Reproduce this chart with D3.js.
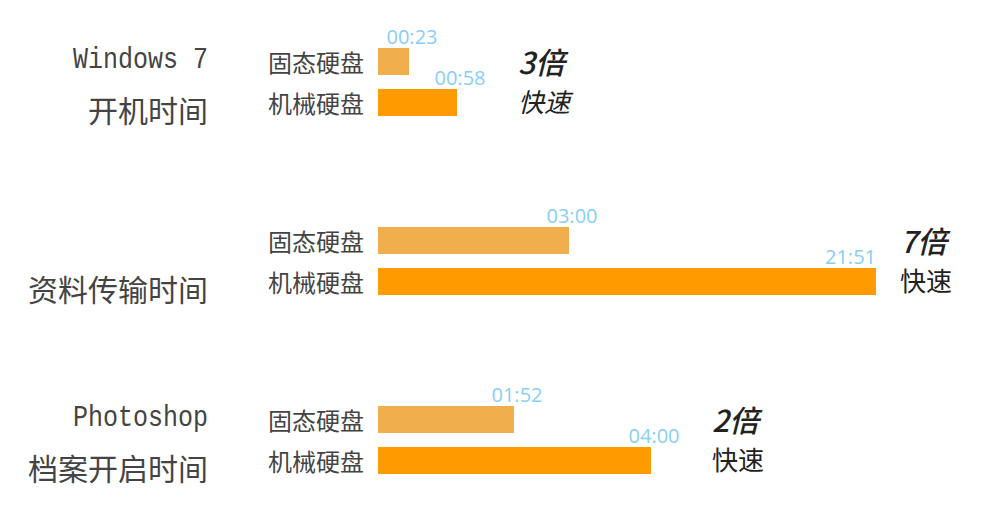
<!DOCTYPE html>
<html>
<head>
<meta charset="utf-8">
<script src="https://cdn.jsdelivr.net/npm/d3@7/dist/d3.min.js"></script>
<style>
  html, body { margin: 0; padding: 0; background: #fff; }
  svg { display: block; }
</style>
</head>
<body>
<svg id="chart" width="996" height="509"></svg>
<script>
// ---- data ----
const groups = ["win7", "transfer", "photoshop"];
const titleLine1 = ["Windows 7", "", "Photoshop"];
const titleLine2 = ["开机时间", "资料传输时间", "档案开启时间"];
const seriesNames = ["固态硬盘", "机械硬盘"];
const ssdTimes = ["00:23", "03:00", "01:52"];
const hddTimes = ["00:58", "21:51", "04:00"];
// relative bar lengths as drawn in the picture (bars are not proportional to the times)
const ssdBarLength = [31, 191, 136];
const hddBarLength = [79, 498, 273];
const speedup = ["3倍", "7倍", "2倍"];
const speedWord = "快速";

// ---- layout ----
const W = 996, H = 509;
const svg = d3.select("#chart");
const cjk = "'Noto Sans CJK SC', 'Noto Sans', sans-serif";

const yGroup = d3.scalePoint().domain(groups).range([82, 440]);
const ySeries = d3.scaleBand().domain([0, 1]).range([-34, 34]).paddingInner(0.3415).paddingOuter(0);
const x = d3.scaleLinear().domain([0, d3.max(hddBarLength)]).range([378, 876]);
const colors = ["#F0AE4C", "#FF9B00"];

const rows = [];
groups.forEach((g, i) => {
  rows.push({ g, i, s: 0, len: ssdBarLength[i], label: ssdTimes[i] });
  rows.push({ g, i, s: 1, len: hddBarLength[i], label: hddTimes[i] });
});

// bars
svg.append("g").selectAll("rect").data(rows).join("rect")
  .attr("x", x(0))
  .attr("y", d => yGroup(d.g) + ySeries(d.s))
  .attr("width", d => x(d.len) - x(0))
  .attr("height", ySeries.bandwidth())
  .attr("fill", d => colors[d.s]);

// series labels
svg.append("g").selectAll("text").data(rows).join("text")
  .attr("x", 364)
  .attr("y", d => yGroup(d.g) + ySeries(d.s) + ySeries.bandwidth() / 2)
  .attr("text-anchor", "end")
  .attr("dominant-baseline", "central")
  .attr("font-family", cjk)
  .attr("font-size", 24)
  .attr("fill", "#444")
  .text(d => seriesNames[d.s]);

// value labels
const xMax = x.range()[1];
svg.append("g").selectAll("text").data(rows).join("text")
  .attr("x", d => x(d.len) + 25 > xMax ? x(d.len) : x(d.len) + 3)
  .attr("y", d => yGroup(d.g) + ySeries(d.s) - 4.5)
  .attr("text-anchor", d => x(d.len) + 25 > xMax ? "end" : "middle")
  .attr("font-family", "'Open Sans', sans-serif")
  .attr("font-size", 20)
  .attr("fill", "#88CFF5")
  .text(d => d.label);

// left titles
const tg = svg.append("g");
groups.forEach((g, i) => {
  if (titleLine1[i]) {
    tg.append("text")
      .attr("transform", `translate(208,${yGroup(g) - 14}) scale(1,1.15)`)
      .attr("text-anchor", "end")
      .attr("font-family", "'Liberation Mono', monospace")
      .attr("font-size", 25)
      .attr("fill", "#444")
      .text(titleLine1[i]);
  }
  tg.append("text")
    .attr("x", 208).attr("y", yGroup(g) + 27)
    .attr("text-anchor", "end")
    .attr("dominant-baseline", "central")
    .attr("font-family", cjk)
    .attr("font-size", 30)
    .attr("fill", "#444")
    .text(titleLine2[i]);
});

// speedup annotations
const sg = svg.append("g");
groups.forEach((g, i) => {
  const maxEnd = Math.max(x(ssdBarLength[i]), x(hddBarLength[i]));
  const ax = Math.min(maxEnd + 61, W - 96);
  sg.append("text")
    .attr("x", ax).attr("y", yGroup(g) + ySeries(0) + ySeries.bandwidth() / 2)
    .attr("dominant-baseline", "central")
    .attr("font-family", cjk)
    .attr("font-size", 30)
    .attr("font-style", "italic")
    .attr("font-weight", 500)
    .attr("fill", "#222")
    .text(speedup[i]);
  sg.append("text")
    .attr("x", ax).attr("y", yGroup(g) + ySeries(1) + ySeries.bandwidth() / 2 - 2)
    .attr("dominant-baseline", "central")
    .attr("font-family", cjk)
    .attr("font-size", 26)
    .attr("font-style", i === 0 ? "italic" : "normal")
    .attr("fill", "#222")
    .text(speedWord);
});
</script>
</body>
</html>
